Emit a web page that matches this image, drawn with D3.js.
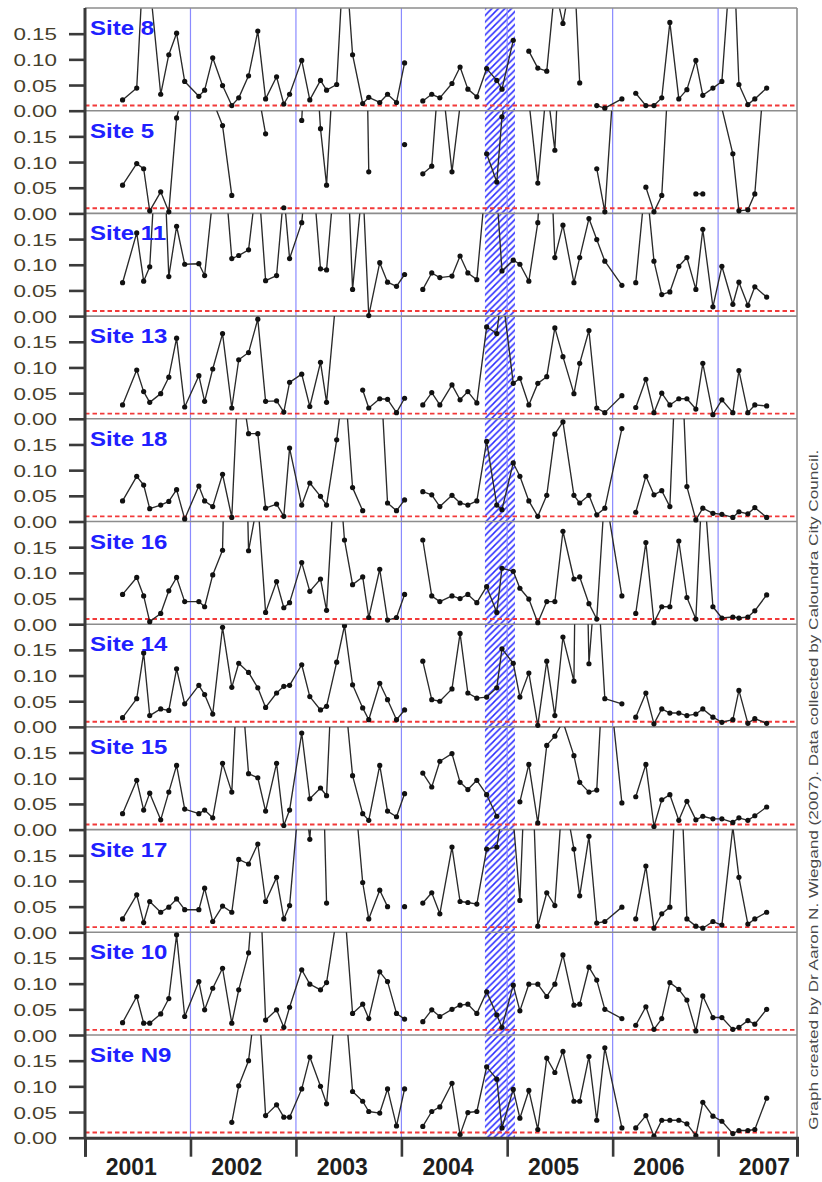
<!DOCTYPE html>
<html>
<head>
<meta charset="utf-8">
<script src="https://cdn.jsdelivr.net/npm/d3@7"></script>
<style>
  html, body { margin: 0; padding: 0; background: #fff; }
  svg { display: block; }
</style>
</head>
<body>
<svg id="chart" width="822" height="1182"></svg>
<script>
// Sampling dates shared by all sites (two empty runs in Feb 2004 and Feb 2006 break the lines)
const sampleDates = [
  '2001-05-11','2001-06-29','2001-07-23','2001-08-13','2001-09-20','2001-10-18','2001-11-14','2001-12-12',
  '2002-01-30','2002-02-19','2002-03-19','2002-04-22','2002-05-24','2002-06-17','2002-07-21','2002-08-22','2002-09-18','2002-10-26','2002-11-20','2002-12-10',
  '2003-01-21','2003-02-18','2003-03-27','2003-04-17','2003-05-22','2003-06-18','2003-07-16','2003-08-20','2003-09-10','2003-10-18','2003-11-14','2003-12-15',
  '2004-01-12','2004-02-13','2004-03-15','2004-04-15','2004-05-13','2004-06-24','2004-07-22','2004-08-18','2004-09-18','2004-10-22','2004-11-26','2004-12-14',
  '2005-01-22','2005-02-14','2005-03-17','2005-04-17','2005-05-18','2005-06-15','2005-07-13','2005-08-20','2005-09-09','2005-10-11','2005-11-07','2005-12-05',
  '2006-02-02','2006-02-27','2006-03-22','2006-04-26','2006-05-24','2006-06-20','2006-07-18','2006-08-18','2006-09-15','2006-10-16','2006-11-09','2006-12-14',
  '2007-01-14','2007-02-21','2007-03-14','2007-04-14','2007-05-08','2007-06-18'
];

const siteNames = ['Site 8','Site 5','Site 11','Site 13','Site 18','Site 16','Site 14','Site 15','Site 17','Site 10','Site N9'];

const site8 = [
  0.021,0.044,0.30,0.25,0.032,0.109,0.151,0.057,
  0.028,0.040,0.103,0.049,0.010,0.025,0.068,0.155,0.023,0.066,0.013,0.032,
  0.098,0.021,0.059,0.040,0.051,0.33,0.109,0.014,0.026,0.016,0.032,0.016,
  0.093,null,0.019,0.032,0.025,0.053,0.085,0.042,0.027,0.082,0.059,0.042,
  0.137,null,0.116,0.083,0.077,0.24,0.17,0.29,0.054,null,0.010,0.005,
  0.023,null,0.034,0.010,0.010,0.025,0.172,0.023,0.041,0.098,0.030,0.044,
  0.057,0.35,0.051,0.012,0.023,0.044
];
const site5 = [
  0.055,0.097,0.087,0.005,0.042,0.003,0.186,0.25,
  null,null,0.22,0.171,0.035,null,null,0.24,0.155,null,0.011,null,
  0.181,0.5,0.165,0.055,0.4,null,null,0.8,0.081,null,null,null,
  0.134,null,0.077,0.092,0.3,0.081,0.21,null,null,0.116,0.061,0.188,
  0.29,null,0.22,0.059,0.25,0.123,0.48,null,null,null,0.087,0.003,
  0.5,null,null,0.051,0.003,0.035,0.32,null,null,0.038,0.038,null,
  0.205,0.116,0.005,0.007,0.038,0.33
];
const site11 = [
  0.065,0.162,0.068,0.096,0.47,0.077,0.175,0.101,
  0.102,0.079,0.23,0.33,0.112,0.118,0.129,0.28,0.069,0.079,0.24,0.112,
  0.182,0.35,0.092,0.090,0.32,0.45,0.052,0.26,0.001,0.104,0.066,0.058,
  0.081,null,0.052,0.084,0.075,0.078,0.117,0.084,0.071,0.28,0.24,0.088,
  0.109,0.101,0.068,0.182,0.5,0.114,0.177,0.065,0.114,0.19,0.149,0.107,
  0.060,null,0.065,0.27,0.107,0.042,0.047,0.097,0.114,0.052,0.169,0.018,
  0.097,0.023,0.066,0.021,0.057,0.037
];
const site13 = [
  0.027,0.095,0.053,0.032,0.049,0.081,0.157,0.023,
  0.084,0.034,0.097,0.166,0.021,0.115,0.129,0.194,0.034,0.035,0.013,0.071,
  0.087,0.024,0.110,0.032,0.25,null,null,0.056,0.021,0.039,0.038,0.012,
  0.040,null,0.027,0.051,0.027,0.066,0.037,0.053,0.031,0.179,0.166,0.25,
  0.069,0.079,0.027,0.069,0.082,0.177,0.121,0.049,0.108,0.172,0.021,0.012,
  0.045,null,0.022,0.077,0.012,0.050,0.027,0.039,0.039,0.019,0.108,0.008,
  0.037,0.012,0.094,0.012,0.027,0.025
];
const site18 = [
  0.040,0.088,0.071,0.025,0.032,0.039,0.062,0.005,
  0.069,0.040,0.029,0.092,0.008,0.30,0.171,0.171,0.026,0.034,0.010,0.143,
  0.032,0.075,0.049,0.032,0.159,0.28,0.066,0.021,null,0.32,0.036,0.021,
  0.042,null,0.058,0.052,0.029,0.051,0.036,0.032,0.040,0.156,0.032,0.023,
  0.114,0.088,0.040,0.010,0.051,0.170,0.194,0.051,0.036,0.051,0.013,0.026,
  0.181,null,0.018,0.088,0.052,0.060,0.029,0.45,0.068,0.003,0.026,0.016,
  0.014,0.008,0.019,0.015,0.027,0.008
];
const site16 = [
  0.058,0.091,0.055,0.005,0.021,0.065,0.091,0.044,
  0.044,0.034,0.096,0.144,1.0,1.0,0.143,0.24,0.023,0.083,0.032,0.042,
  0.120,0.064,0.088,0.027,0.36,0.164,0.077,0.092,0.013,0.107,0.008,0.013,
  0.058,null,0.164,0.055,0.044,0.055,0.050,0.058,0.042,0.073,0.023,0.109,
  0.103,0.070,0.049,0.003,0.044,0.044,0.181,0.088,0.092,0.040,0.010,0.26,
  0.055,null,0.021,0.159,0.003,0.034,0.034,0.162,0.052,0.010,0.30,0.034,
  0.012,0.014,0.012,0.014,0.026,0.057
];
const site14 = [
  0.018,0.055,0.144,0.022,0.035,0.032,0.113,0.045,
  0.081,0.063,0.025,0.194,0.077,0.124,0.106,0.076,0.038,0.066,0.079,0.081,
  0.121,0.059,0.033,0.040,0.126,0.197,0.082,0.037,0.014,0.085,0.053,0.014,
  0.033,null,0.128,0.053,0.050,0.074,0.182,0.066,0.056,0.058,0.076,0.152,
  0.124,0.058,0.105,0.003,0.128,0.022,0.175,0.089,1.0,0.123,0.32,0.055,
  0.045,null,0.019,0.066,0.006,0.035,0.027,0.027,0.022,0.025,0.035,0.019,
  0.009,0.014,0.071,0.007,0.016,0.007
];
const site15 = [
  0.031,0.096,0.038,0.071,0.019,0.073,0.125,0.040,
  0.031,0.038,0.023,0.129,0.073,0.35,0.109,0.101,0.036,0.129,0.008,0.038,
  0.188,0.060,0.081,0.066,0.50,0.27,0.105,0.031,0.018,0.125,0.036,0.025,
  0.070,null,0.110,0.083,0.133,0.148,0.092,0.078,0.096,0.068,0.026,null,
  null,0.054,0.127,0.013,0.164,0.182,0.21,0.144,0.092,0.073,0.077,0.37,
  0.052,null,0.064,0.127,0.006,0.058,0.068,0.018,0.055,0.019,0.026,0.021,
  0.021,0.014,0.023,0.018,0.027,0.044
];
const site17 = [
  0.026,0.073,0.019,0.060,0.039,0.049,0.065,0.044,
  0.044,0.086,0.021,0.051,0.039,0.142,0.133,0.172,0.060,0.107,0.026,0.052,
  0.32,0.181,0.5,0.057,null,null,0.32,0.097,0.026,0.082,0.050,null,
  0.050,null,0.057,0.077,0.036,0.166,0.060,0.058,0.055,0.162,0.166,0.23,
  0.22,0.062,0.5,0.012,0.077,0.052,0.28,0.162,0.071,0.187,0.018,0.021,
  0.049,null,0.026,0.129,0.008,0.036,0.049,0.40,0.026,0.012,0.008,0.021,
  0.014,0.205,0.107,0.016,0.026,0.039
];
const site10 = [
  0.024,0.075,0.023,0.023,0.041,0.071,0.195,0.036,
  0.104,0.049,0.091,0.130,0.023,0.088,0.160,0.40,0.029,0.049,0.015,0.054,
  0.127,0.099,0.088,0.102,0.23,0.25,0.042,0.060,0.032,0.123,0.104,0.042,
  0.031,null,0.026,0.049,0.036,0.050,0.058,0.060,0.042,0.084,0.039,0.015,
  0.097,0.047,0.099,0.099,0.075,0.099,0.156,0.058,0.060,0.132,0.107,0.050,
  0.032,null,0.019,0.055,0.011,0.032,0.102,0.089,0.068,0.008,0.076,0.034,
  0.034,0.011,0.015,0.028,0.021,0.050
];
const siteN9 = [
  null,null,null,null,null,null,null,null,
  null,null,null,null,0.030,0.101,0.150,0.30,0.043,0.064,0.040,0.040,
  0.095,0.157,0.100,0.066,0.28,0.28,0.090,0.071,0.051,0.048,0.095,0.023,
  0.095,null,0.022,0.051,0.060,0.106,0.006,0.049,0.051,0.138,0.114,0.019,
  0.094,0.038,0.092,0.016,0.155,0.127,0.168,0.071,0.071,0.158,0.034,0.175,
  0.019,null,0.019,0.043,0.003,0.034,0.034,0.034,0.027,0.004,0.069,0.042,
  0.032,0.008,0.014,0.014,0.016,0.077
];

const siteValues = [site8, site5, site11, site13, site18, site16, site14, site15, site17, site10, siteN9];

const yTicks = [0, 0.05, 0.10, 0.15];
const yMax = 0.2;
const threshold = 0.01;
const years = [2001, 2002, 2003, 2004, 2005, 2006, 2007];
const axisEnd = '2007-10-01';
const hatchedPeriod = ['2004-10-16', '2005-01-28'];
const creditText = 'Graph created by Dr Aaron N. Wiegand (2007). Data collected by Caloundra City Council.';

// ---- layout ----
const plotLeft = 85, plotRight = 797, plotTop = 8;
const panelH = 102.7;
const nPanels = siteNames.length;
const plotBottom = plotTop + panelH * nPanels;

const parse = d3.timeParse('%Y-%m-%d');
const dates = sampleDates.map(parse);

const x = d3.scaleTime()
  .domain([new Date(2001, 0, 1), parse(axisEnd)])
  .range([plotLeft, plotRight]);

const svg = d3.select('#chart');
const defs = svg.append('defs');

// diagonal hatch for the highlighted period
const pat = defs.append('pattern')
  .attr('id', 'hatch')
  .attr('patternUnits', 'userSpaceOnUse')
  .attr('width', 6.5).attr('height', 6.5);
pat.append('path')
  .attr('d', 'M-1,1 L1,-1 M0,6.5 L6.5,0 M5.5,7.5 L7.5,5.5')
  .attr('stroke', '#2a2aff')
  .attr('stroke-width', 1.5);

svg.append('rect').attr('width', 822).attr('height', 1182).attr('fill', '#fff');

const hp = hatchedPeriod.map(parse);
svg.append('rect')
  .attr('x', x(hp[0])).attr('y', plotTop)
  .attr('width', x(hp[1]) - x(hp[0]))
  .attr('height', plotBottom - plotTop)
  .attr('fill', 'url(#hatch)');

// year dividers
svg.append('g').selectAll('line')
  .data(years.slice(1))
  .join('line')
  .attr('x1', d => x(new Date(d, 0, 1))).attr('x2', d => x(new Date(d, 0, 1)))
  .attr('y1', plotTop).attr('y2', plotBottom)
  .attr('stroke', '#8a8aff').attr('stroke-width', 1.2);

const line = d3.line()
  .defined(d => d.v != null)
  .x(d => x(d.date))
  .y(d => d.y);

siteNames.forEach((name, i) => {
  const pTop = plotTop + i * panelH;
  const pBot = pTop + panelH;
  const y = d3.scaleLinear().domain([0, yMax]).range([pBot, pTop]);
  const g = svg.append('g').attr('class', 'panel');

  const clipId = 'clip' + i;
  defs.append('clipPath').attr('id', clipId)
    .append('rect')
    .attr('x', plotLeft - 4).attr('y', pTop)
    .attr('width', plotRight - plotLeft + 8).attr('height', panelH + 3);

  // threshold line
  g.append('line')
    .attr('x1', plotLeft).attr('x2', plotRight)
    .attr('y1', y(threshold)).attr('y2', y(threshold))
    .attr('stroke', '#f23a3a').attr('stroke-width', 1.9)
    .attr('stroke-dasharray', '4.5,3');

  // panel separator (zero line)
  g.append('line')
    .attr('x1', plotLeft).attr('x2', plotRight)
    .attr('y1', pBot).attr('y2', pBot)
    .attr('stroke', '#8c8c8c').attr('stroke-width', 1.6);

  const data = siteValues[i].map((v, k) => ({ date: dates[k], v, y: v == null ? 0 : y(v) }));
  const dg = g.append('g').attr('clip-path', `url(#${clipId})`);
  dg.append('path')
    .datum(data)
    .attr('d', line)
    .attr('fill', 'none')
    .attr('stroke', '#2a2a2a')
    .attr('stroke-width', 1.35)
    .attr('stroke-linejoin', 'round');
  dg.selectAll('circle')
    .data(data.filter(d => d.v != null && d.v <= yMax))
    .join('circle')
    .attr('cx', d => x(d.date)).attr('cy', d => d.y)
    .attr('r', 2.6)
    .attr('fill', '#111');

  // y axis for this panel
  const ax = g.append('g')
    .attr('transform', `translate(${plotLeft},0)`)
    .call(d3.axisLeft(y).tickValues(yTicks).tickSize(16).tickFormat(d3.format('.2f')));
  ax.select('.domain').remove();
  ax.selectAll('.tick line').attr('stroke', '#3a3a3a').attr('stroke-width', 2.6);
  ax.selectAll('.tick text')
    .attr('x', 0).attr('dy', null)
    .attr('transform', 'translate(-28,6) scale(1.4,1)')
    .attr('text-anchor', 'end')
    .attr('fill', '#453e2c')
    .style('font-family', '"Liberation Sans", Arial, sans-serif')
    .style('font-size', '16px');

  // site label
  g.append('text')
    .attr('transform', `translate(90,${pTop + 27}) scale(1.2,1)`)
    .attr('fill', '#2020ff')
    .style('font-family', '"Liberation Sans", Arial, sans-serif')
    .style('font-weight', 'bold')
    .style('font-size', '20px')
    .text(name);
});

// frame: top and right borders
svg.append('line').attr('x1', plotLeft).attr('x2', plotRight).attr('y1', plotTop).attr('y2', plotTop)
  .attr('stroke', '#8c8c8c').attr('stroke-width', 1.6);
svg.append('line').attr('x1', plotRight).attr('x2', plotRight).attr('y1', plotTop).attr('y2', plotBottom)
  .attr('stroke', '#8c8c8c').attr('stroke-width', 1.6);

// left axis line
svg.append('line').attr('x1', plotLeft).attr('x2', plotLeft).attr('y1', plotTop).attr('y2', plotBottom)
  .attr('stroke', '#3a3a3a').attr('stroke-width', 3);

// bottom time axis
const xa = svg.append('g')
  .attr('transform', `translate(0,${plotBottom})`)
  .call(d3.axisBottom(x).tickValues(years.map(yr => new Date(yr, 0, 1))).tickSize(19).tickFormat(''));
xa.select('.domain').attr('stroke', '#3a3a3a').attr('stroke-width', 3);
xa.selectAll('.tick line').attr('stroke', '#3a3a3a').attr('stroke-width', 2.6);

svg.append('g').selectAll('text')
  .data(years)
  .join('text')
  .attr('x', d => x(new Date(d, 6, 1)) - 6)
  .attr('y', plotBottom + 37)
  .attr('text-anchor', 'middle')
  .attr('fill', '#1e1e1e')
  .style('font-family', '"Liberation Sans", Arial, sans-serif')
  .style('font-weight', 'bold')
  .style('font-size', '23px')
  .text(d => d);

// credit line along the right edge
svg.append('text')
  .attr('transform', `translate(818,${plotBottom - 8}) rotate(-90)`)
  .attr('fill', '#4a4a4a')
  .attr('textLength', 680)
  .attr('lengthAdjust', 'spacingAndGlyphs')
  .style('font-family', '"Liberation Sans", Arial, sans-serif')
  .style('font-size', '12.5px')
  .text(creditText);
</script>
</body>
</html>
